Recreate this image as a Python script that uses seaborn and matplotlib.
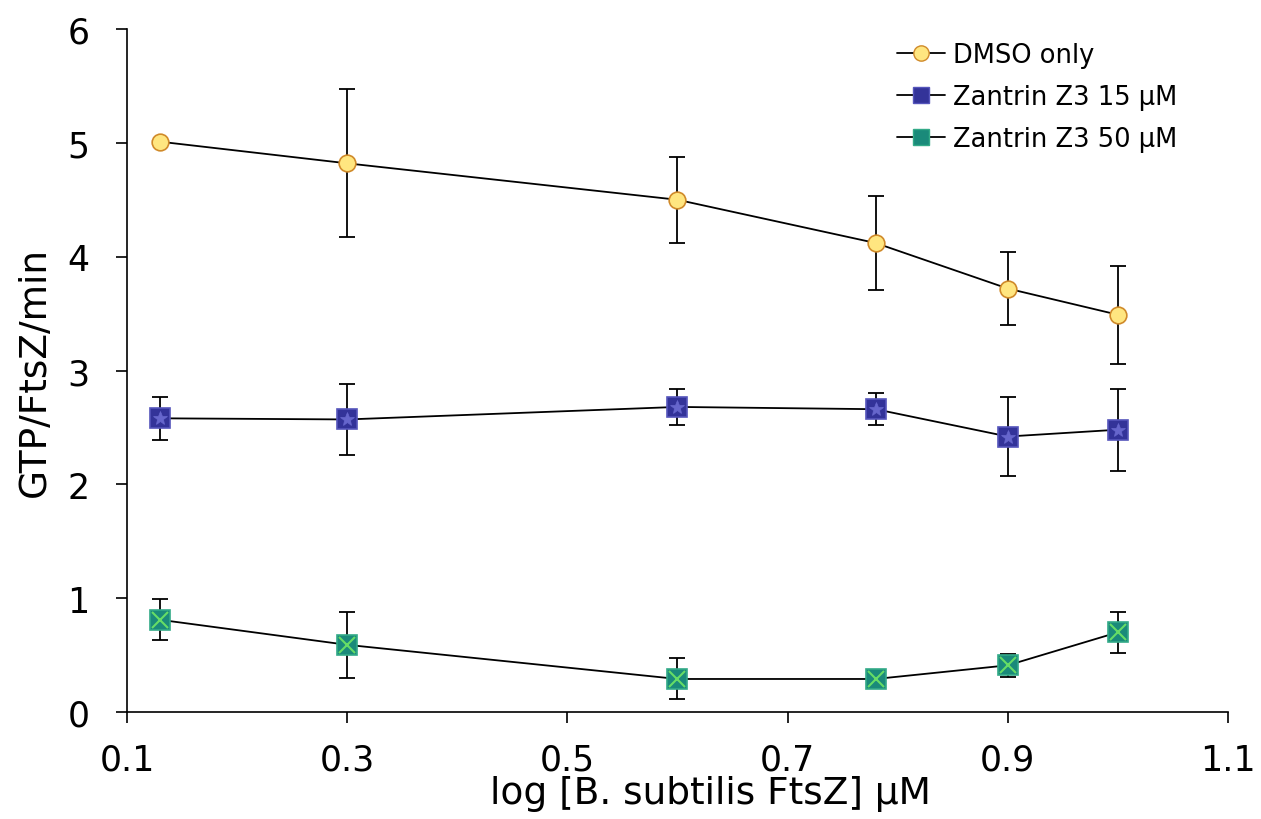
import numpy as np
import pandas as pd
import matplotlib
matplotlib.use('Agg')
import matplotlib.pyplot as plt
from matplotlib.lines import Line2D
import seaborn as sns

# data
log_ftsz = [0.13, 0.30, 0.60, 0.78, 0.90, 1.00]
series_names = ['DMSO only', 'Zantrin Z3 15 \u00b5M', 'Zantrin Z3 50 \u00b5M']
dmso_mean = [5.01, 4.82, 4.50, 4.12, 3.72, 3.49]
dmso_err = [0.0, 0.65, 0.38, 0.41, 0.32, 0.43]
z15_mean = [2.58, 2.57, 2.68, 2.66, 2.42, 2.48]
z15_err = [0.19, 0.31, 0.16, 0.14, 0.35, 0.36]
z50_mean = [0.81, 0.59, 0.29, 0.29, 0.41, 0.70]
z50_err = [0.18, 0.29, 0.18, 0.02, 0.10, 0.18]

df = pd.DataFrame({
    'x': log_ftsz * 3,
    'y': dmso_mean + z15_mean + z50_mean,
    'err': dmso_err + z15_err + z50_err,
    'series': np.repeat(series_names, len(log_ftsz)),
})

sns.set_style('white')
plt.rcParams['font.family'] = ['DejaVu Sans']
plt.rcParams['text.color'] = 'black'
plt.rcParams['axes.labelcolor'] = 'black'

fig = plt.figure(figsize=(12.61, 8.2), dpi=100)
ax = fig.add_axes([0.1007, 0.1305, 0.8731, 0.8329])

styles = {
    series_names[0]: dict(marker='o', mfc='#FFE680', mec='#D08A2A', ms=12),
    series_names[1]: dict(marker='s', mfc='#333399', mec='#5555BB', ms=14),
    series_names[2]: dict(marker='s', mfc='#1A8A7A', mec='#33AA88', ms=14),
}

for name in series_names:
    sub = df[df['series'] == name]
    ax.errorbar(sub['x'], sub['y'], yerr=sub['err'], fmt='none',
                ecolor='black', elinewidth=1.3, capsize=6, capthick=1.3, zorder=2)
    sns.lineplot(data=sub, x='x', y='y', color='black', linewidth=1.3,
                 ax=ax, legend=False, zorder=3)
    st = styles[name]
    ax.plot(sub['x'], sub['y'], linestyle='none', marker=st['marker'],
            markersize=st['ms'], markerfacecolor=st['mfc'],
            markeredgecolor=st['mec'], markeredgewidth=1.2, zorder=4)
    if name == series_names[2]:
        ax.plot(sub['x'], sub['y'], linestyle='none', marker='x',
                markersize=12, color='#66DD66', markeredgewidth=1.5, zorder=5)
    if name == series_names[1]:
        ax.plot(sub['x'], sub['y'], linestyle='none', marker='*',
                markersize=10, color='#6666CC', markeredgewidth=0.5, zorder=5)

ax.set_xlim(0.1, 1.1)
ax.set_ylim(0, 6)
ax.set_xticks([0.1, 0.3, 0.5, 0.7, 0.9, 1.1])
ax.set_xticklabels(['0.1', '0.3', '0.5', '0.7', '0.9', '1.1'])
ax.set_yticks(range(0, 7))
ax.tick_params(axis='both', direction='out', length=8, width=1.2,
               labelsize=25, bottom=True, left=True, colors='black')
ax.tick_params(axis='x', pad=14)
ax.tick_params(axis='y', pad=19)
for s in ['top', 'right']:
    ax.spines[s].set_visible(False)
for s in ['left', 'bottom']:
    ax.spines[s].set_color('black')
    ax.spines[s].set_linewidth(1.2)

ax.set_xlabel('log [B. subtilis FtsZ] \u00b5M', fontsize=27, labelpad=-1)
ax.xaxis.label.set_x(0.53)
ax.set_ylabel('GTP/FtsZ/min', fontsize=27, labelpad=10)

handles = []
for name in series_names:
    st = styles[name]
    handles.append(Line2D([0], [0], color='black', linewidth=1.3,
                          marker=st['marker'], markersize=11,
                          markerfacecolor=st['mfc'], markeredgecolor=st['mec']))
leg = ax.legend(handles, series_names, loc='upper right',
                bbox_to_anchor=(0.975, 1.015), frameon=False, fontsize=18.5,
                handlelength=1.9, handletextpad=0.3, labelspacing=0.62)

fig.savefig('out.png', dpi=100)
